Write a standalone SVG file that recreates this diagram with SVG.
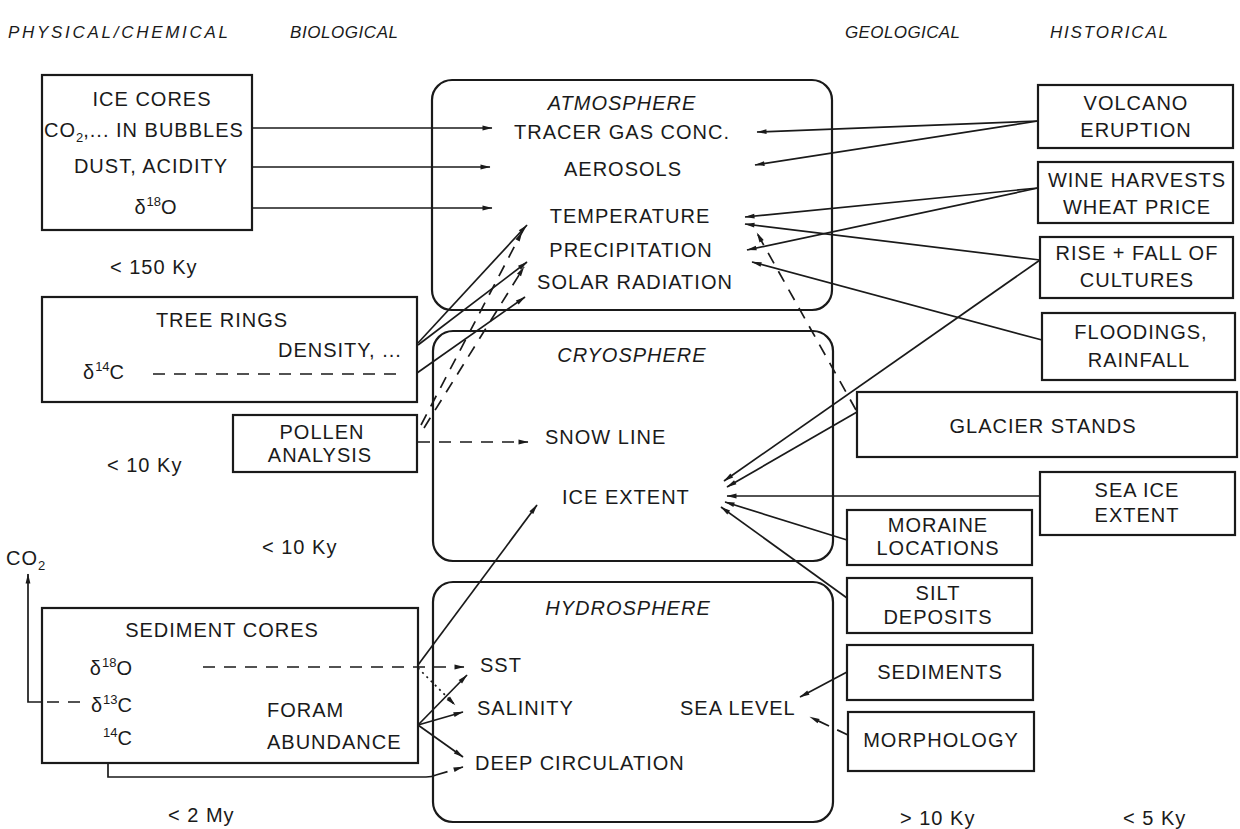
<svg xmlns="http://www.w3.org/2000/svg" width="1240" height="829" viewBox="0 0 1240 829">
<style>
.t{font-family:"Liberation Sans",Arial,sans-serif;font-size:20px;letter-spacing:1px;fill:#1a1a1a}
.m{text-anchor:middle}
.e{text-anchor:end}
.i{font-style:italic}
.h{font-family:"Liberation Sans",Arial,sans-serif;font-size:17px;font-style:italic;fill:#1a1a1a}
.sm{font-size:13px;letter-spacing:0}
.box{fill:none;stroke:#1a1a1a;stroke-width:2.2}
.c{fill:none;stroke:#1a1a1a;stroke-width:1.7}
.d{stroke-dasharray:12 9}
.dt{stroke-dasharray:2 4}
</style>
<defs>
<marker id="a" viewBox="0 0 10 6" refX="9.5" refY="3" markerWidth="11" markerHeight="6" markerUnits="userSpaceOnUse" orient="auto">
<path d="M0,0.6 L10,3 L0,5.4 z" fill="#1a1a1a"/>
</marker>
</defs>
<rect width="1240" height="829" fill="#ffffff"/>

<g id="headers">
<text class="h" x="8" y="38" textLength="220" lengthAdjust="spacing">PHYSICAL/CHEMICAL</text>
<text class="h" x="290" y="38" textLength="108" lengthAdjust="spacing">BIOLOGICAL</text>
<text class="h" x="845" y="38" textLength="115" lengthAdjust="spacing">GEOLOGICAL</text>
<text class="h" x="1050" y="38" textLength="118" lengthAdjust="spacing">HISTORICAL</text>
</g>

<g id="ice-cores">
<rect class="box" x="42" y="75" width="210" height="155"/>
<text class="t m" x="152" y="106">ICE CORES</text>
<text class="t" x="44" y="137">CO<tspan class="sm" dy="5">2</tspan><tspan dy="-5">,... IN BUBBLES</tspan></text>
<text class="t m" x="151" y="173">DUST, ACIDITY</text>
<text class="t m" x="156" y="214"><tspan>δ</tspan><tspan class="sm" dy="-8">18</tspan><tspan dy="8">O</tspan></text>
</g>

<g id="tree-rings">
<rect class="box" x="42" y="297" width="375" height="105"/>
<text class="t m" x="222" y="327">TREE RINGS</text>
<text class="t" x="278" y="357">DENSITY, ...</text>
<text class="t" x="83" y="379"><tspan>δ</tspan><tspan class="sm" dy="-8">14</tspan><tspan dy="8">C</tspan></text>
</g>

<g id="pollen">
<rect class="box" x="233" y="415" width="184" height="57"/>
<text class="t m" x="322" y="439">POLLEN</text>
<text class="t m" x="320" y="462">ANALYSIS</text>
</g>

<g id="sediment-cores">
<rect class="box" x="42" y="608" width="376" height="155"/>
<text class="t m" x="222" y="637">SEDIMENT CORES</text>
<text class="t e" x="133" y="675"><tspan>δ</tspan><tspan class="sm" dy="-8">18</tspan><tspan dy="8">O</tspan></text>
<text class="t e" x="133" y="712"><tspan>δ</tspan><tspan class="sm" dy="-8">13</tspan><tspan dy="8">C</tspan></text>
<text class="t e" x="133" y="745"><tspan class="sm" dy="-8">14</tspan><tspan dy="8">C</tspan></text>
<text class="t" x="267" y="717">FORAM</text>
<text class="t" x="267" y="749">ABUNDANCE</text>
</g>

<g id="co2-label">
<text class="t" x="6" y="565">CO<tspan class="sm" dy="5">2</tspan></text>
</g>

<g id="ages">
<text class="t" x="110" y="274">&lt; 150 Ky</text>
<text class="t" x="107" y="472">&lt; 10 Ky</text>
<text class="t" x="262" y="554">&lt; 10 Ky</text>
<text class="t" x="168" y="822">&lt; 2 My</text>
<text class="t" x="900" y="825">&gt; 10 Ky</text>
<text class="t" x="1123" y="825">&lt; 5 Ky</text>
</g>

<g id="atmosphere">
<rect class="box" x="432" y="80" width="400" height="230" rx="20"/>
<text class="t m i" x="622" y="110">ATMOSPHERE</text>
<text class="t m" x="622" y="139">TRACER GAS CONC.</text>
<text class="t m" x="623" y="176">AEROSOLS</text>
<text class="t m" x="630" y="223">TEMPERATURE</text>
<text class="t m" x="631" y="257">PRECIPITATION</text>
<text class="t m" x="635" y="289">SOLAR RADIATION</text>
</g>

<g id="cryosphere">
<rect class="box" x="433" y="331" width="400" height="230" rx="20"/>
<text class="t m i" x="632" y="362">CRYOSPHERE</text>
<text class="t" x="545" y="444">SNOW LINE</text>
<text class="t" x="562" y="504">ICE EXTENT</text>
</g>

<g id="hydrosphere">
<rect class="box" x="433" y="582" width="400" height="240" rx="20"/>
<text class="t m i" x="628" y="615">HYDROSPHERE</text>
<text class="t" x="480" y="672">SST</text>
<text class="t" x="477" y="715">SALINITY</text>
<text class="t" x="680" y="715">SEA LEVEL</text>
<text class="t" x="475" y="770">DEEP CIRCULATION</text>
</g>

<g id="volcano">
<rect class="box" x="1038" y="85" width="195" height="63"/>
<text class="t m" x="1136" y="110">VOLCANO</text>
<text class="t m" x="1136" y="137">ERUPTION</text>
</g>
<g id="wine">
<rect class="box" x="1038" y="162" width="195" height="61"/>
<text class="t m" x="1137" y="187">WINE HARVESTS</text>
<text class="t m" x="1137" y="214">WHEAT PRICE</text>
</g>
<g id="cultures">
<rect class="box" x="1040" y="237" width="193" height="61"/>
<text class="t m" x="1137" y="260">RISE + FALL OF</text>
<text class="t m" x="1137" y="287">CULTURES</text>
</g>
<g id="floodings">
<rect class="box" x="1042" y="313" width="193" height="67"/>
<text class="t m" x="1141" y="339">FLOODINGS,</text>
<text class="t m" x="1139" y="367">RAINFALL</text>
</g>
<g id="glacier">
<rect class="box" x="857" y="392" width="380" height="65"/>
<text class="t m" x="1043" y="433">GLACIER STANDS</text>
</g>
<g id="sea-ice">
<rect class="box" x="1040" y="472" width="195" height="63"/>
<text class="t m" x="1137" y="497">SEA ICE</text>
<text class="t m" x="1137" y="522">EXTENT</text>
</g>
<g id="moraine">
<rect class="box" x="847" y="510" width="185" height="55"/>
<text class="t m" x="938" y="532">MORAINE</text>
<text class="t m" x="938" y="555">LOCATIONS</text>
</g>
<g id="silt">
<rect class="box" x="847" y="578" width="185" height="55"/>
<text class="t m" x="938" y="600">SILT</text>
<text class="t m" x="938" y="624">DEPOSITS</text>
</g>
<g id="sediments">
<rect class="box" x="847" y="645" width="186" height="55"/>
<text class="t m" x="940" y="679">SEDIMENTS</text>
</g>
<g id="morphology">
<rect class="box" x="848" y="712" width="186" height="59"/>
<text class="t m" x="941" y="747">MORPHOLOGY</text>
</g>

<g id="connectors">
<path class="c" marker-end="url(#a)" d="M252,128 H492"/>
<path class="c" marker-end="url(#a)" d="M252,167 H490"/>
<path class="c" marker-end="url(#a)" d="M252,208 H492"/>
<path class="c d" d="M153,374 H405"/>
<path class="c" marker-end="url(#a)" d="M1038,121 L757,132"/>
<path class="c" marker-end="url(#a)" d="M1038,121 L755,165"/>
<path class="c" marker-end="url(#a)" d="M1038,188 L745,217"/>
<path class="c" marker-end="url(#a)" d="M1038,188 L747,250"/>
<path class="c" marker-end="url(#a)" d="M1040,260 L745,224"/>
<path class="c" marker-end="url(#a)" d="M1040,260 L724,481"/>
<path class="c" marker-end="url(#a)" d="M1042,340 L752,262"/>
<path class="c d" marker-end="url(#a)" d="M856,410 L757,233"/>
<path class="c" marker-end="url(#a)" d="M857,412 L727,487"/>
<path class="c" marker-end="url(#a)" d="M1040,496 H727"/>
<path class="c" marker-end="url(#a)" d="M847,540 L725,502"/>
<path class="c" marker-end="url(#a)" d="M847,598 L721,507"/>
<path class="c" marker-end="url(#a)" d="M847,672 L800,697"/>
<path class="c d" marker-end="url(#a)" d="M848,735 L810,717"/>
<path class="c" marker-end="url(#a)" d="M418,665 L537,505"/>
<path class="c" marker-end="url(#a)" d="M418,343 L527,225"/>
<path class="c" marker-end="url(#a)" d="M418,345 L527,262"/>
<path class="c" marker-end="url(#a)" d="M417,373 L525,297"/>
<path class="c d" marker-end="url(#a)" d="M421,425 L522,232"/>
<path class="c d" marker-end="url(#a)" d="M424,428 L524,267"/>
<path class="c d" marker-end="url(#a)" d="M418,442 H528"/>
<path class="c d" marker-end="url(#a)" d="M203,667 H464"/>
<path class="c dt" marker-end="url(#a)" d="M418,668 L455,705"/>
<path class="c" marker-end="url(#a)" d="M418,725 L467,675"/>
<path class="c" marker-end="url(#a)" d="M418,725 L463,712"/>
<path class="c" marker-end="url(#a)" d="M418,725 L463,757"/>
<path class="c" d="M108,763 V777 H426 Q432,777 436,775"/>
<path class="c d" marker-end="url(#a)" d="M436,775 L463,767"/>
<path class="c d" d="M80,702 H44"/>
<path class="c" marker-end="url(#a)" d="M42,702 H28 V574"/>
</g>
</svg>
